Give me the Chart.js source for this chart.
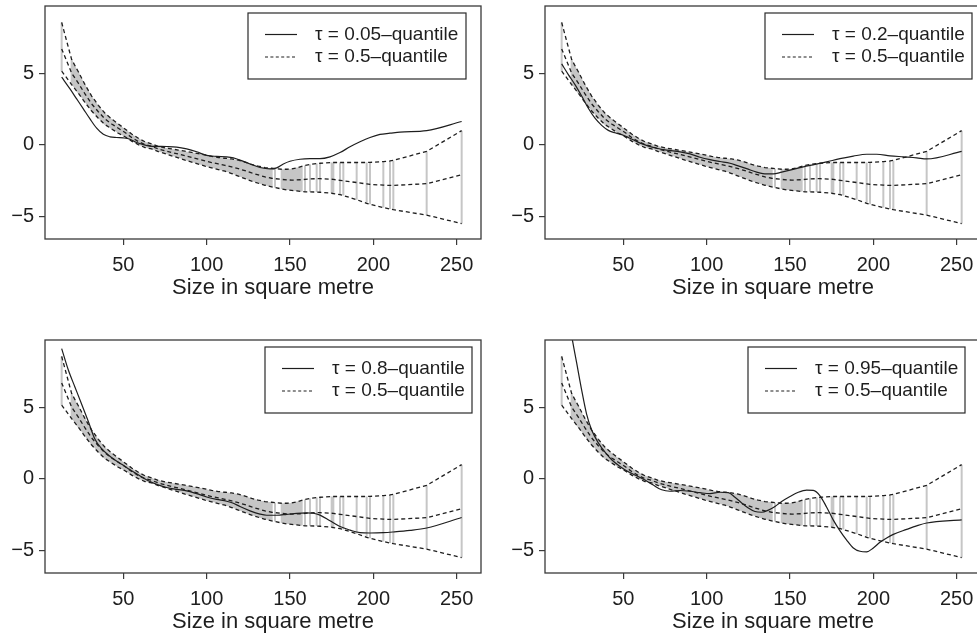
<!DOCTYPE html>
<html>
<head>
<meta charset="utf-8">
<script src="https://cdn.jsdelivr.net/npm/chart.js@4.4.1/dist/chart.umd.min.js"></script>
<style>
  html, body { margin: 0; padding: 0; background: #fff; overflow: hidden; }
  body { width: 977px; height: 634px; position: relative; }
  canvas { position: absolute; }
</style>
</head>
<body>
<canvas id="q05" width="488" height="317" style="left:0;top:0"></canvas>
<canvas id="q20" width="488" height="317" style="left:500px;top:0"></canvas>
<canvas id="q80" width="488" height="317" style="left:0;top:334px"></canvas>
<canvas id="q95" width="488" height="317" style="left:500px;top:334px"></canvas>
<script>
// axis ticks
const xTicks = [50, 100, 150, 200, 250];
const yTicks = [-5, 0, 5];
const yTickLabels = ['\u22125', '0', '5'];
const xTitle = 'Size in square metre';

// observed sizes and the median fit with its band, evaluated at them
const sizes = [13, 19, 23, 27, 31, 35, 39, 43, 47, 51, 55, 59, 63, 67, 71, 75, 79, 83, 87, 91,
  95, 99, 103, 107, 111, 115, 119, 123, 127, 131, 135, 139, 141, 145, 148, 151, 154, 157,
  159, 162, 166, 168, 175, 176, 180, 182, 190, 196, 198, 206, 210, 212, 232, 253];
const medUpper = [8.55, 5.95, 5.1, 4.2, 3.4, 2.75, 2.2, 1.8, 1.45, 1.1, 0.75, 0.45, 0.2, 0.05, -0.12, -0.22, -0.3, -0.38, -0.46, -0.54,
  -0.62, -0.72, -0.82, -0.9, -0.95, -1.0, -1.08, -1.22, -1.38, -1.5, -1.6, -1.65, -1.68, -1.72, -1.72, -1.7, -1.62, -1.52,
  -1.45, -1.38, -1.32, -1.3, -1.25, -1.25, -1.25, -1.25, -1.25, -1.25, -1.24, -1.18, -1.14, -1.1, -0.47, 0.98];
const median = [6.7, 5.0, 4.3, 3.55, 2.85, 2.3, 1.8, 1.45, 1.15, 0.85, 0.5, 0.22, 0.0, -0.12, -0.3, -0.42, -0.55, -0.65, -0.78, -0.9,
  -1.02, -1.14, -1.25, -1.35, -1.45, -1.55, -1.68, -1.82, -1.98, -2.12, -2.25, -2.35, -2.38, -2.43, -2.46, -2.48, -2.47, -2.45,
  -2.43, -2.4, -2.38, -2.38, -2.42, -2.43, -2.5, -2.53, -2.65, -2.75, -2.78, -2.83, -2.85, -2.85, -2.73, -2.1];
const medLower = [5.15, 4.2, 3.6, 2.95, 2.35, 1.85, 1.4, 1.1, 0.8, 0.55, 0.25, 0.0, -0.2, -0.3, -0.48, -0.62, -0.78, -0.92, -1.08, -1.22,
  -1.36, -1.5, -1.62, -1.74, -1.86, -2.02, -2.2, -2.38, -2.55, -2.7, -2.84, -2.95, -3.0, -3.1, -3.16, -3.2, -3.24, -3.28,
  -3.3, -3.3, -3.32, -3.33, -3.4, -3.42, -3.5, -3.56, -3.85, -4.1, -4.17, -4.4, -4.5, -4.55, -4.93, -5.52];
// stretches of sizes where the observations sit close together
const denseRuns = [[19, 139], [145, 157]];

// tau = 0.05
const x05 = [13, 18, 22, 26, 30, 34, 38, 42, 46, 50, 54, 58, 62, 66, 70, 76, 82, 88, 94, 100, 106, 112, 116, 120,
  126, 132, 138, 142, 146, 150, 156, 162, 168, 174, 180, 186, 192, 198, 204, 210, 216, 232, 253];
const y05 = [4.72, 3.9, 3.2, 2.5, 1.8, 1.15, 0.72, 0.55, 0.5, 0.47, 0.38, 0.15, 0.0, -0.1, -0.12, -0.13, -0.17, -0.3, -0.5, -0.75, -0.82, -0.85, -0.92, -1.08,
  -1.35, -1.6, -1.7, -1.62, -1.35, -1.16, -1.02, -0.98, -0.98, -0.85, -0.55, -0.15, 0.2, 0.5, 0.72, 0.8, 0.88, 0.98, 1.62];
// tau = 0.2
const x20 = [13, 17, 21, 25, 29, 33, 37, 41, 45, 49, 53, 57, 61, 65, 70, 76, 84, 90, 96, 102, 108, 114, 118, 124,
  130, 136, 140, 145, 150, 158, 165, 172, 180, 188, 196, 202, 210, 218, 226, 232, 253];
const y20 = [5.65, 4.9, 4.2, 3.4, 2.55, 1.85, 1.35, 1.0, 0.83, 0.7, 0.5, 0.28, 0.07, -0.1, -0.25, -0.38, -0.5, -0.65, -0.88, -1.05, -1.18, -1.3, -1.45, -1.68,
  -1.92, -2.05, -2.05, -1.92, -1.78, -1.55, -1.38, -1.2, -0.98, -0.8, -0.67, -0.67, -0.78, -0.85, -0.92, -1.0, -0.47];
// tau = 0.8
const x80 = [13, 17, 21, 25, 29, 33, 37, 41, 45, 49, 53, 57, 61, 65, 70, 76, 82, 88, 94, 100, 106, 112, 116, 120,
  126, 132, 136, 142, 148, 154, 160, 164, 168, 174, 180, 186, 192, 198, 206, 212, 222, 232, 253];
const y80 = [9.1, 7.6, 6.4, 5.2, 4.0, 2.75, 2.1, 1.65, 1.3, 1.0, 0.7, 0.42, 0.12, -0.15, -0.4, -0.62, -0.75, -0.85, -1.05, -1.28, -1.45, -1.58, -1.72, -1.95,
  -2.25, -2.48, -2.56, -2.56, -2.5, -2.43, -2.4, -2.42, -2.55, -2.95, -3.35, -3.6, -3.78, -3.8, -3.78, -3.73, -3.62, -3.45, -2.72];
// tau = 0.95
const x95 = [13, 16, 19, 22, 25, 28, 31, 35, 39, 43, 48, 53, 58, 63, 68, 73, 78, 84, 90, 96, 102, 108, 113, 117, 121, 125, 129,
  133, 137, 141, 145, 150, 155, 160, 164, 168, 172, 176, 180, 184, 188, 192, 196, 200, 204, 208, 212, 220, 226, 232, 253];
const y95 = [15.0, 12.3, 10.0, 8.1, 6.2, 4.5, 3.4, 2.5, 1.85, 1.32, 0.85, 0.48, 0.2, -0.1, -0.45, -0.78, -0.88, -0.83, -0.88, -0.98, -1.05, -0.95, -0.98, -1.3, -1.7, -2.05, -2.3,
  -2.35, -2.2, -1.95, -1.6, -1.25, -0.95, -0.8, -0.82, -1.2, -2.0, -2.9, -3.65, -4.3, -4.85, -5.08, -5.12, -4.85, -4.45, -4.15, -3.9, -3.55, -3.3, -3.1, -2.88];

const FONT = "'Liberation Sans', Arial, Helvetica, sans-serif";
const INK = '#1e1e1e';
const GREY = '#c6c6c6';
const DASH = [4, 3];

const pts = (xs, ys) => xs.map((x, i) => ({ x, y: ys[i] }));

// grey vertical strokes from lower to upper band at every observed size
function bandStrokes() {
  const out = [];
  sizes.forEach((x, i) => {
    out.push({ x, y: medLower[i] }, { x, y: medUpper[i] }, { x, y: null });
  });
  return out;
}

function runPts(ys, run) {
  const out = [];
  sizes.forEach((x, i) => { if (x >= run[0] && x <= run[1]) out.push({ x, y: ys[i] }); });
  return out;
}

// keep the plotting region fixed: no extra room for overhanging labels
function noLabelPadding(axis) {
  axis.paddingTop = 0;
  axis.paddingBottom = 0;
  axis.paddingLeft = 0;
  axis.paddingRight = 0;
}

// frame round the plotting region, plus the x-axis caption under it
const frame = {
  id: 'frame',
  afterDraw(chart) {
    const { ctx, chartArea: a } = chart;
    ctx.save();
    ctx.strokeStyle = '#3a3a3a';
    ctx.lineWidth = 1.3;
    ctx.strokeRect(a.left, a.top, a.right - a.left, a.bottom - a.top);
    ctx.font = '22px ' + FONT;
    ctx.fillStyle = INK;
    ctx.textAlign = 'center';
    ctx.textBaseline = 'alphabetic';
    ctx.fillText(xTitle, (a.left + a.right) / 2 + 10, a.bottom + 55);
    ctx.restore();
  }
};

// boxed legend: solid quantile line and dashed median
const quantileLegend = {
  id: 'quantileLegend',
  afterDraw(chart, args, opts) {
    const { ctx, chartArea: a } = chart;
    const x = a.left + opts.left, y = a.top + 7;
    ctx.save();
    ctx.fillStyle = '#fff';
    ctx.fillRect(x, y, opts.width, 66);
    ctx.strokeStyle = '#2a2a2a';
    ctx.lineWidth = 1.2;
    ctx.strokeRect(x, y, opts.width, 66);
    ctx.font = '19px ' + FONT;
    ctx.textBaseline = 'middle';
    ctx.fillStyle = INK;
    opts.items.forEach((item, k) => {
      const ly = y + 21.5 + k * 22.5;
      ctx.beginPath();
      ctx.setLineDash(item.dash);
      ctx.strokeStyle = INK;
      ctx.lineWidth = 1.2;
      ctx.moveTo(x + 17, ly);
      ctx.lineTo(x + 49, ly);
      ctx.stroke();
      ctx.setLineDash([]);
      ctx.fillText(item.text, x + 67, ly);
    });
    ctx.restore();
  }
};

function makePanel(id, tau, xs, ys, legendLeft, legendWidth) {
  const lineStyle = { pointRadius: 0, borderColor: INK, borderWidth: 1.2, fill: false };
  const dashed = { ...lineStyle, borderWidth: 1.3, borderDash: DASH };
  const datasets = [
    { ...lineStyle, data: pts(xs, ys), cubicInterpolationMode: 'monotone' },
    { ...dashed, data: pts(sizes, medUpper) },
    { ...dashed, data: pts(sizes, median) },
    { ...dashed, data: pts(sizes, medLower) },
    { data: bandStrokes(), pointRadius: 0, borderColor: GREY, borderWidth: 2, spanGaps: false, fill: false }
  ];
  denseRuns.forEach(run => {
    datasets.push(
      { data: runPts(medUpper, run), pointRadius: 0, borderWidth: 0, borderColor: 'rgba(0,0,0,0)', backgroundColor: GREY, fill: '+1' },
      { data: runPts(medLower, run), pointRadius: 0, borderWidth: 0, borderColor: 'rgba(0,0,0,0)', fill: false }
    );
  });

  new Chart(document.getElementById(id), {
    type: 'line',
    data: { datasets },
    options: {
      responsive: false,
      animation: false,
      layout: { padding: { left: 0, top: 6, right: 7, bottom: 0 } },
      plugins: {
        legend: { display: false },
        tooltip: { enabled: false },
        filler: { drawTime: 'beforeDatasetsDraw' },
        quantileLegend: {
          left: legendLeft,
          width: legendWidth,
          items: [
            { text: '\u03c4 = ' + tau + '\u2013quantile', dash: [] },
            { text: '\u03c4 = 0.5\u2013quantile', dash: [3, 2.4] }
          ]
        }
      },
      scales: {
        x: {
          type: 'linear',
          min: 3,
          max: 264.6,
          afterBuildTicks: axis => { axis.ticks = xTicks.map(v => ({ value: v })); },
          afterFit: axis => { axis.height = 78; noLabelPadding(axis); },
          ticks: { color: INK, font: { family: FONT, size: 20 }, padding: 8, maxRotation: 0 },
          grid: { drawOnChartArea: false, drawTicks: true, tickLength: 6, color: '#3a3a3a', lineWidth: 1.2 },
          border: { display: false }
        },
        y: {
          type: 'linear',
          min: -6.6,
          max: 9.7,
          afterBuildTicks: axis => { axis.ticks = yTicks.map(v => ({ value: v })); },
          afterFit: axis => { axis.width = 45; noLabelPadding(axis); },
          ticks: {
            color: INK,
            font: { family: FONT, size: 20 },
            padding: 5,
            callback: v => yTickLabels[yTicks.indexOf(v)]
          },
          grid: { drawOnChartArea: false, drawTicks: true, tickLength: 6, color: '#3a3a3a', lineWidth: 1.2 },
          border: { display: false }
        }
      }
    },
    plugins: [frame, quantileLegend]
  });
}

makePanel('q05', '0.05', x05, y05, 203, 218);
makePanel('q20', '0.2', x20, y20, 220, 207);
makePanel('q80', '0.8', x80, y80, 220, 207);
makePanel('q95', '0.95', x95, y95, 203, 217);
</script>
</body>
</html>
